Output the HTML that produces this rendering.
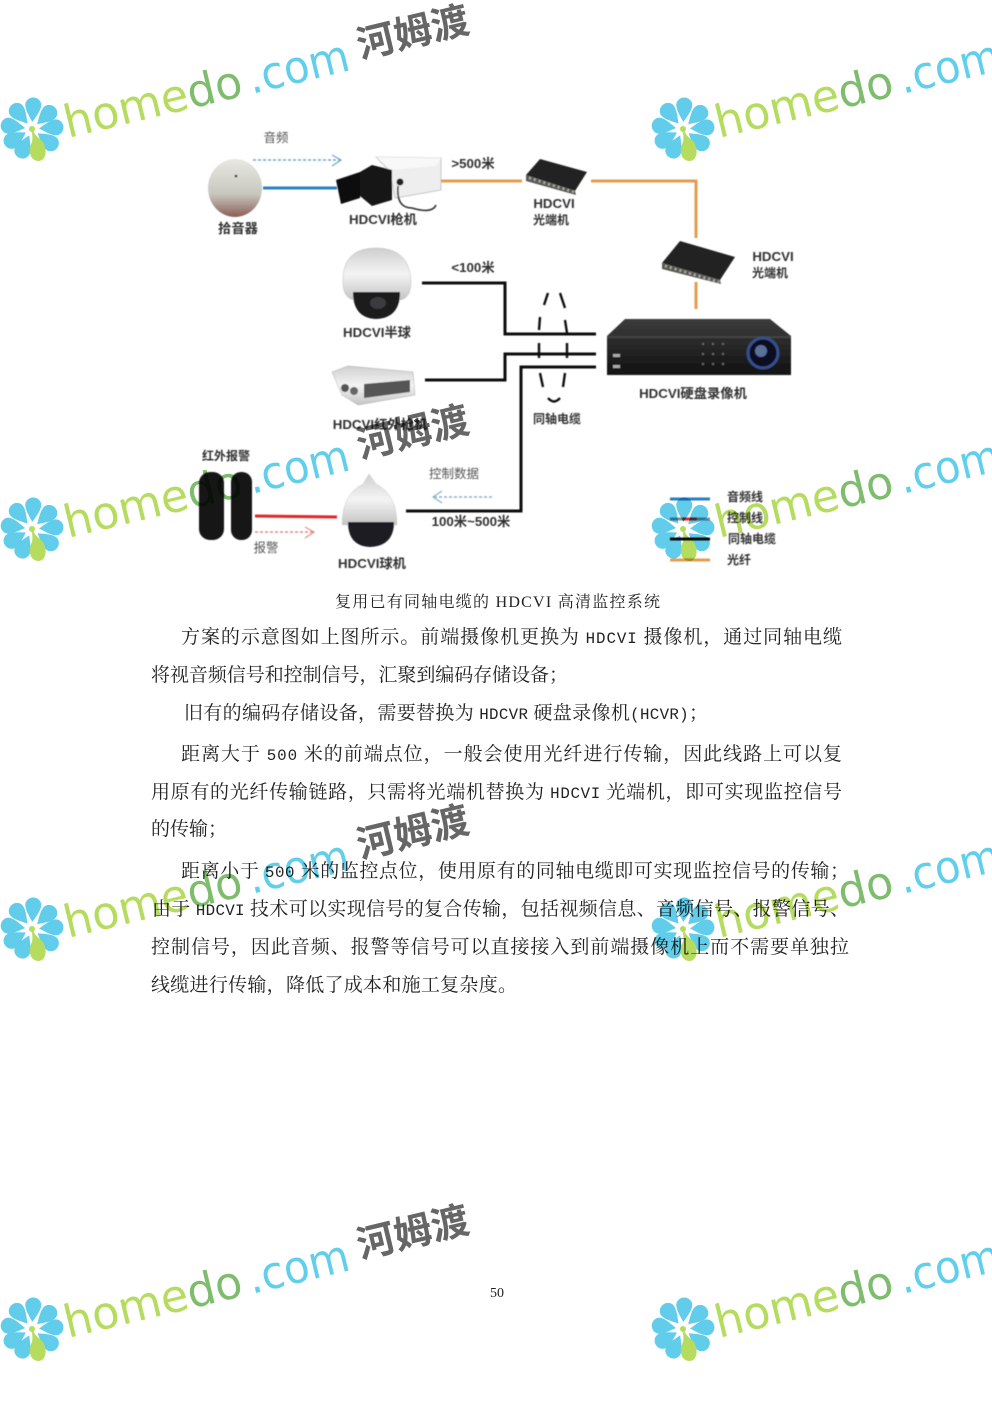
<!DOCTYPE html>
<html lang="zh"><head><meta charset="utf-8"><title>HDCVI</title>
<style>
html,body{margin:0;padding:0;background:#fff}
svg{display:block}
.d text{font-family:"Liberation Sans","Noto Sans CJK SC",sans-serif;font-size:13.3px;font-weight:bold;fill:#333;text-anchor:middle}
.d text.l{font-weight:normal;fill:#555;font-size:12.5px}
.b text{font-family:"Noto Serif CJK SC",serif;font-size:19px;fill:#222}
.b tspan{font-family:"Liberation Mono",monospace;font-size:15.8px}
.w{mix-blend-mode:multiply}
.w .a{font-family:"DejaVu Sans",sans-serif;font-size:45px}
.w .c{font-family:"Noto Sans CJK SC",sans-serif;font-size:38px;font-weight:700;fill:#666}
</style></head><body>
<svg width="992" height="1403" viewBox="0 0 992 1403" xmlns="http://www.w3.org/2000/svg">
<defs>
<filter id="bl" x="-5%" y="-5%" width="110%" height="110%"><feGaussianBlur stdDeviation="0.55"/></filter>
<linearGradient id="mic" x1="0" y1="0" x2="0" y2="1"><stop offset="0" stop-color="#e8e8e2"/><stop offset=".6" stop-color="#c8c8c0"/><stop offset="1" stop-color="#8a5f58"/></linearGradient>
<linearGradient id="dvr" x1="0" y1="0" x2="0" y2="1"><stop offset="0" stop-color="#3c3c3c"/><stop offset="1" stop-color="#111"/></linearGradient>
<linearGradient id="wh" x1="0" y1="0" x2="0" y2="1"><stop offset="0" stop-color="#cfcfcf"/><stop offset=".5" stop-color="#f4f4f4"/><stop offset="1" stop-color="#c4c4c4"/></linearGradient>
<symbol id="fl" viewBox="-32 -32 64 64" width="64" height="64" overflow="visible">
<g fill="#62cdea">
<path d="M0-7C-3-12-8-19-8-24A8 7.500 0 0 1 8-24C8-19 3-12 0-7Z" transform="rotate(3)"/>
<path d="M0-7C-3-12-8-19-8-24A8 7.500 0 0 1 8-24C8-19 3-12 0-7Z" transform="rotate(47)"/>
<path d="M0-7C-3-12-8-19-8-24A8 7.500 0 0 1 8-24C8-19 3-12 0-7Z" transform="rotate(86)"/>
<path d="M0-7C-3-12-8-19-8-24A8 7.500 0 0 1 8-24C8-19 3-12 0-7Z" transform="rotate(127)"/>
<path d="M0-7C-3-12-8-19-8-24A8 7.500 0 0 1 8-24C8-19 3-12 0-7Z" transform="rotate(204)"/>
<path d="M0-7C-3-12-8-19-8-24A8 7.500 0 0 1 8-24C8-19 3-12 0-7Z" transform="rotate(240)"/>
<path d="M0-7C-3-12-8-19-8-24A8 7.500 0 0 1 8-24C8-19 3-12 0-7Z" transform="rotate(278)"/>
<path d="M0-7C-3-12-8-19-8-24A8 7.500 0 0 1 8-24C8-19 3-12 0-7Z" transform="rotate(320)"/>
</g>
<path d="M0-3C1 4 4 7 9 11C15 16 16 31 7 32C-3 32 -4 20 0 13C1 8 0 3-1-3Z" fill="#b5dc5e"/>
<circle cx="0" cy="0" r="3" fill="#b5dc5e"/>
</symbol>
</defs>
<rect width="992" height="1403" fill="#fff"/>

<g class="d" filter="url(#bl)">
<!-- connectors -->
<g fill="none">
<path d="M263 188H337" stroke="#2c7fc2" stroke-width="3"/>
<path d="M441 181H522M591 181H696V238M696 282V309" stroke="#e39c4e" stroke-width="3"/>
<path d="M422 283H505V334H596M425 380H505V354H596M406 511H521V367H596" stroke="#111" stroke-width="3"/>
<path d="M548 293L544 305M560 293L565 308M540 317L539 330M565 320L567 333M539 343V358M567 343V358M540 373L543 387M565 373L563 387M548 398Q554 405 560 398" stroke="#111" stroke-width="2.4"/>
<path d="M255 516L337 517" stroke="#e0262a" stroke-width="3"/>
<path d="M253 160H340" stroke="#6fa6c9" stroke-width="1.5" stroke-dasharray="3 2"/>
<path d="M332 155L341 160L332 166" stroke="#6fa6c9" stroke-width="1.2"/>
<path d="M255 532H313" stroke="#e58a8a" stroke-width="1.5" stroke-dasharray="3 2"/>
<path d="M305 527L314 532L305 538" stroke="#e58a8a" stroke-width="1.2"/>
<path d="M492 497H434" stroke="#8ab0c8" stroke-width="1.5" stroke-dasharray="3 2"/>
<path d="M442 491L433 497L442 503" stroke="#8ab0c8" stroke-width="1.2"/>
<path d="M670 499H710" stroke="#2c7fc2" stroke-width="3"/>
<path d="M670 519H710" stroke="#7a8fa0" stroke-width="3"/><path d="M682 519H697" stroke="#e0262a" stroke-width="3"/>
<path d="M670 539H710" stroke="#111" stroke-width="3"/>
<path d="M670 560H710" stroke="#e39c4e" stroke-width="3"/>
</g>
<!-- mic -->
<ellipse cx="235" cy="188" rx="27" ry="29" fill="url(#mic)"/>
<circle cx="236" cy="176" r="1.3" fill="#222"/>
<!-- box camera -->
<path d="M376 157L441 158V190L395 198L390 172Z" fill="#eeeeee" stroke="#bbb" stroke-width=".8"/>
<path d="M376 157L441 158L436 166L392 170Z" fill="#f8f8f8"/>
<path d="M360 172L372 165L392 170V200L372 206L360 196Z" fill="#181818"/>
<path d="M336 180L360 172V198L341 204Z" fill="#0e0e0e"/>
<path d="M398 186Q396 208 412 208Q432 214 436 205" fill="none" stroke="#333" stroke-width="1.6"/>
<circle cx="400" cy="182" r="3.5" fill="#222"/>
<!-- transceiver 1 -->
<path d="M526 175L540 159L587 172L575 191Z" fill="#242424"/>
<path d="M526 175L575 191L576 195L526 181Z" fill="#5a5a52"/>
<path d="M529 178L574 192" stroke="#aaa" stroke-width="2.5" stroke-dasharray="2 3" fill="none"/>
<!-- transceiver 2 -->
<path d="M662 263L680 241L735 257L720 280Z" fill="#242424"/>
<path d="M662 263L720 280L721 284L662 269Z" fill="#5a5a52"/>
<path d="M665 266L719 282" stroke="#aaa" stroke-width="2.5" stroke-dasharray="2 3" fill="none"/>
<!-- DVR -->
<path d="M607 336L625 319H770L791 336V375H607Z" fill="url(#dvr)"/>
<path d="M607 336H791V338H607Z" fill="#444"/>
<circle cx="763" cy="353" r="15" fill="#0a0f22" stroke="#34508c" stroke-width="3"/>
<circle cx="761" cy="351" r="6" fill="#5a6f99"/>
<rect x="613" y="354" width="7" height="3" fill="#aaa"/><rect x="613" y="365" width="7" height="3" fill="#aaa"/>
<g fill="#666"><rect x="702" y="343" width="2" height="2"/><rect x="712" y="343" width="2" height="2"/><rect x="722" y="343" width="2" height="2"/><rect x="702" y="353" width="2" height="2"/><rect x="712" y="353" width="2" height="2"/><rect x="722" y="353" width="2" height="2"/><rect x="702" y="363" width="2" height="2"/><rect x="712" y="363" width="2" height="2"/><rect x="722" y="363" width="2" height="2"/></g>
<!-- dome -->
<path d="M343 282Q342 248 376 248Q410 248 411 282Q411 298 400 300H354Q343 298 343 282Z" fill="url(#wh)" stroke="#bbb" stroke-width=".5"/>
<path d="M353 292H400Q400 318 376 319Q353 318 353 292Z" fill="#1a1a1e"/>
<ellipse cx="378" cy="303" rx="8" ry="6" fill="#3a3a40"/>
<!-- bullet -->
<path d="M332 372L348 366L413 372L415 395L358 405L342 395Z" fill="url(#wh)" stroke="#aaa" stroke-width=".5"/>
<path d="M364 384L410 380V392L364 398Z" fill="#555"/>
<circle cx="345" cy="388" r="4" fill="#555"/><circle cx="354" cy="391" r="4" fill="#666"/>
<!-- PTZ -->
<path d="M363 484L369 474L376 484Q397 494 397 525H342Q342 494 363 484Z" fill="url(#wh)" stroke="#ccc" stroke-width=".5"/>
<path d="M348 522H394Q394 546 370 547Q348 546 348 522Z" fill="#1d1d20"/>
<!-- alarm -->
<rect x="199" y="472" width="25" height="68" rx="11" fill="#141414"/>
<rect x="231" y="472" width="21" height="68" rx="10" fill="#141414"/>
<!-- labels -->
<text class="l" x="276" y="142">音频</text>
<text x="383" y="224">HDCVI枪机</text>
<text x="238" y="233">拾音器</text>
<text x="473" y="168">&gt;500米</text>
<text x="554" y="208">HDCVI</text>
<text x="551" y="224" style="font-size:12px">光端机</text>
<text x="773" y="261">HDCVI</text>
<text x="770" y="277" style="font-size:12px">光端机</text>
<text x="473" y="272">&lt;100米</text>
<text x="377" y="337">HDCVI半球</text>
<text x="380" y="429">HDCVI红外枪机</text>
<text x="693" y="398">HDCVI硬盘录像机</text>
<text x="557" y="423" style="font-size:12px">同轴电缆</text>
<text x="226" y="460" style="font-size:12px">红外报警</text>
<text class="l" x="454" y="478">控制数据</text>
<text x="471" y="526">100米~500米</text>
<text class="l" x="266" y="552">报警</text>
<text x="372" y="568">HDCVI球机</text>
<text x="745" y="501" style="font-size:12px">音频线</text>
<text x="745" y="522" style="font-size:12px">控制线</text>
<text x="752" y="543" style="font-size:12px">同轴电缆</text>
<text x="739" y="564" style="font-size:12px">光纤</text>
</g>

<g class="b">
<text x="335" y="607" textLength="325" style="font-size:16px">复用已有同轴电缆的 <tspan style="font-family:'Liberation Serif',serif;font-size:16px">HDCVI</tspan> 高清监控系统</text>
<text x="181" y="643" textLength="661">方案的示意图如上图所示。前端摄像机更换为 <tspan>HDCVI</tspan> 摄像机，通过同轴电缆</text>
<text x="151" y="681" textLength="417">将视音频信号和控制信号，汇聚到编码存储设备；</text>
<text x="184" y="719" textLength="524">旧有的编码存储设备，需要替换为 <tspan>HDCVR</tspan> 硬盘录像机<tspan>(HCVR)</tspan>；</text>
<text x="181" y="760" textLength="661">距离大于 <tspan>500</tspan> 米的前端点位，一般会使用光纤进行传输，因此线路上可以复</text>
<text x="151" y="798" textLength="691">用原有的光纤传输链路，只需将光端机替换为 <tspan>HDCVI</tspan> 光端机，即可实现监控信号</text>
<text x="151" y="835">的传输；</text>
<text x="181" y="877" textLength="668">距离小于 <tspan>500</tspan> 米的监控点位，使用原有的同轴电缆即可实现监控信号的传输；</text>
<text x="152" y="915" textLength="697">由于 <tspan>HDCVI</tspan> 技术可以实现信号的复合传输，包括视频信息、音频信号、报警信号、</text>
<text x="151" y="953" textLength="698">控制信号，因此音频、报警等信号可以直接接入到前端摄像机上而不需要单独拉</text>
<text x="151" y="991" textLength="366">线缆进行传输，降低了成本和施工复杂度。</text>
<text x="490" y="1297" style="font-family:'Liberation Serif',serif;font-size:14px">50</text>
</g>

<g class="w" transform="translate(0,0)">
<use href="#fl" x="0" y="97"/>
<g transform="translate(68,138) rotate(-13.5)"><text class="a" fill="#b5dc5e" textLength="182" lengthAdjust="spacingAndGlyphs">home<tspan fill="#7ebd6e">do</tspan></text><text class="a" x="189" fill="#62cfea" textLength="103" lengthAdjust="spacingAndGlyphs">.com</text><text class="c" x="303" y="-9">河姆渡</text></g>
</g>
<g class="w" transform="translate(651,0)">
<use href="#fl" x="0" y="97"/>
<g transform="translate(68,138) rotate(-13.5)"><text class="a" fill="#b5dc5e" textLength="182" lengthAdjust="spacingAndGlyphs">home<tspan fill="#7ebd6e">do</tspan></text><text class="a" x="189" fill="#62cfea" textLength="103" lengthAdjust="spacingAndGlyphs">.com</text><text class="c" x="303" y="-9">河姆渡</text></g>
</g>
<g class="w" transform="translate(0,400)">
<use href="#fl" x="0" y="97"/>
<g transform="translate(68,138) rotate(-13.5)"><text class="a" fill="#b5dc5e" textLength="182" lengthAdjust="spacingAndGlyphs">home<tspan fill="#7ebd6e">do</tspan></text><text class="a" x="189" fill="#62cfea" textLength="103" lengthAdjust="spacingAndGlyphs">.com</text><text class="c" x="303" y="-9">河姆渡</text></g>
</g>
<g class="w" transform="translate(651,400)">
<use href="#fl" x="0" y="97"/>
<g transform="translate(68,138) rotate(-13.5)"><text class="a" fill="#b5dc5e" textLength="182" lengthAdjust="spacingAndGlyphs">home<tspan fill="#7ebd6e">do</tspan></text><text class="a" x="189" fill="#62cfea" textLength="103" lengthAdjust="spacingAndGlyphs">.com</text><text class="c" x="303" y="-9">河姆渡</text></g>
</g>
<g class="w" transform="translate(0,800)">
<use href="#fl" x="0" y="97"/>
<g transform="translate(68,138) rotate(-13.5)"><text class="a" fill="#b5dc5e" textLength="182" lengthAdjust="spacingAndGlyphs">home<tspan fill="#7ebd6e">do</tspan></text><text class="a" x="189" fill="#62cfea" textLength="103" lengthAdjust="spacingAndGlyphs">.com</text><text class="c" x="303" y="-9">河姆渡</text></g>
</g>
<g class="w" transform="translate(651,800)">
<use href="#fl" x="0" y="97"/>
<g transform="translate(68,138) rotate(-13.5)"><text class="a" fill="#b5dc5e" textLength="182" lengthAdjust="spacingAndGlyphs">home<tspan fill="#7ebd6e">do</tspan></text><text class="a" x="189" fill="#62cfea" textLength="103" lengthAdjust="spacingAndGlyphs">.com</text><text class="c" x="303" y="-9">河姆渡</text></g>
</g>
<g class="w" transform="translate(0,1200)">
<use href="#fl" x="0" y="97"/>
<g transform="translate(68,138) rotate(-13.5)"><text class="a" fill="#b5dc5e" textLength="182" lengthAdjust="spacingAndGlyphs">home<tspan fill="#7ebd6e">do</tspan></text><text class="a" x="189" fill="#62cfea" textLength="103" lengthAdjust="spacingAndGlyphs">.com</text><text class="c" x="303" y="-9">河姆渡</text></g>
</g>
<g class="w" transform="translate(651,1200)">
<use href="#fl" x="0" y="97"/>
<g transform="translate(68,138) rotate(-13.5)"><text class="a" fill="#b5dc5e" textLength="182" lengthAdjust="spacingAndGlyphs">home<tspan fill="#7ebd6e">do</tspan></text><text class="a" x="189" fill="#62cfea" textLength="103" lengthAdjust="spacingAndGlyphs">.com</text><text class="c" x="303" y="-9">河姆渡</text></g>
</g>
</svg>
</body></html>
